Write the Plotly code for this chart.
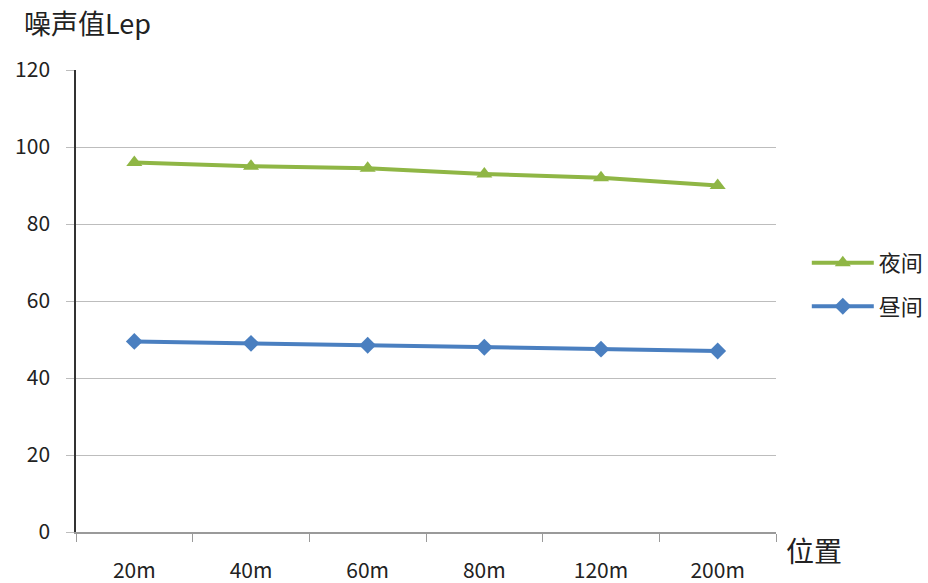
import plotly.graph_objects as go

categories = ["20m", "40m", "60m", "80m", "120m", "200m"]
night = [96.0, 95.0, 94.5, 93.0, 92.0, 90.0]
day = [49.5, 49.0, 48.5, 48.0, 47.5, 47.0]
y_ticks = [0, 20, 40, 60, 80, 100, 120]

FONT = "Noto Sans CJK SC, DejaVu Sans, sans-serif"
GREEN = "#8fb645"
BLUE = "#4a7fc0"

fig = go.Figure()
fig.add_trace(go.Scatter(
    x=categories, y=night, name="夜间", mode="lines+markers",
    line=dict(color=GREEN, width=4),
    marker=dict(symbol="triangle-up", size=14, color=GREEN),
    legendgroup="a",
))
fig.add_trace(go.Scatter(
    x=categories, y=day, name="昼间", mode="lines+markers",
    line=dict(color=BLUE, width=4),
    marker=dict(symbol="diamond", size=13, color=BLUE),
    legendgroup="b",
))

fig.update_layout(
    width=928, height=583,
    margin=dict(l=76, r=152, t=70, b=51, autoexpand=False),
    paper_bgcolor="white", plot_bgcolor="white",
    font=dict(family=FONT, color="#222222"),
    showlegend=True,
    legend=dict(
        x=1.044, y=0.535, xanchor="left", yanchor="middle",
        font=dict(size=22, family=FONT, color="#222222"),
        itemwidth=62, tracegroupgap=12,
        bgcolor="rgba(0,0,0,0)",
    ),
    xaxis=dict(
        type="category", tickson="boundaries", automargin=False,
        showgrid=False, showline=True, linecolor="#9a9a9a", linewidth=1.5,
        ticks="outside", ticklen=8, tickcolor="#9a9a9a",
        tickfont=dict(size=21, family=FONT, color="#222222"),
        ticklabelstandoff=19,
        range=[-0.5, 5.5],
    ),
    yaxis=dict(
        range=[0, 120], tickvals=y_ticks, automargin=False,
        showgrid=True, gridcolor="#bdbdbd", gridwidth=1.2,
        showline=True, linecolor="#333333", linewidth=1.5,
        ticks="outside", ticklen=8, tickcolor="#bdbdbd",
        tickfont=dict(size=21, family=FONT, color="#222222"),
        ticklabelstandoff=12,
        zeroline=False,
    ),
    annotations=[
        dict(text="噪声值Lep", xref="paper", yref="paper",
             x=-0.077, y=1.103, xanchor="left", yanchor="middle",
             showarrow=False, font=dict(size=27, family=FONT, color="#222222")),
        dict(text="位置", xref="paper", yref="paper",
             x=1.011, y=-0.04, xanchor="left", yanchor="middle",
             showarrow=False, font=dict(size=28, family=FONT, color="#222222")),
    ],
)

# remove the default 8px page margin so the 928x583 figure fills the window
fig.write_html(
    "out.html",
    config={"displayModeBar": False},
    post_script="document.body.style.margin='0';document.body.style.overflow='hidden';",
)
